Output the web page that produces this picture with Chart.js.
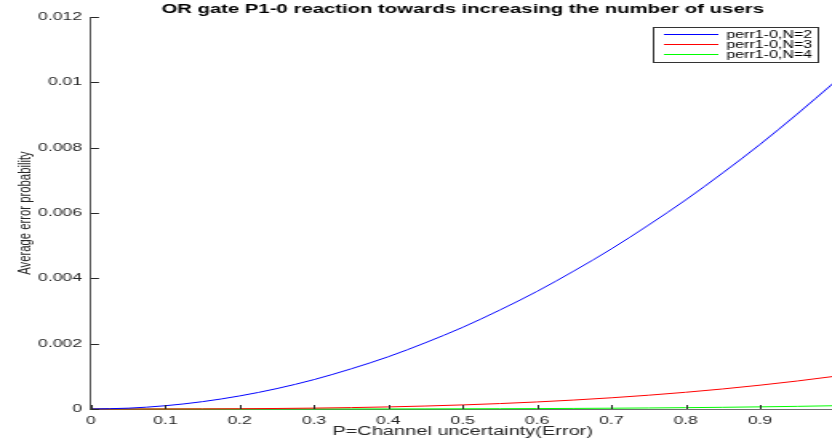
<!DOCTYPE html>
<html>
<head>
<meta charset="utf-8">
<title>OR gate P1-0 reaction</title>
<script src="https://cdn.jsdelivr.net/npm/chart.js@4.4.1/dist/chart.umd.min.js"></script>
<style>
  html, body { margin: 0; padding: 0; background: #fff; overflow: hidden; }
  /* the original figure is stretched sideways, so draw narrow and widen it */
  #wrap { position: relative; width: 522px; height: 443px; transform: scaleX(1.6); transform-origin: 0 0; }
</style>
</head>
<body>
<div id="wrap"><canvas id="errChart"></canvas></div>
<script>
// P = channel uncertainty
const pValues = [0, 0.05, 0.1, 0.15, 0.2, 0.25, 0.3, 0.35, 0.4, 0.45, 0.5,
                 0.55, 0.6, 0.65, 0.7, 0.75, 0.8, 0.85, 0.9, 0.95, 1];
// average error probability
const perrN2 = [0, 0.000025, 0.0001, 0.000225, 0.0004, 0.000625, 0.0009, 0.00123, 0.0016, 0.00203, 0.0025,
                0.00303, 0.0036, 0.00423, 0.0049, 0.00563, 0.0064, 0.00723, 0.0081, 0.00903, 0.01];
const perrN3 = [0, 0.0000001, 0.000001, 0.0000034, 0.000008, 0.000016, 0.000027, 0.000043, 0.000064, 0.000091, 0.000125,
                0.000166, 0.000216, 0.000275, 0.000343, 0.000422, 0.000512, 0.000614, 0.000729, 0.000857, 0.001];
const perrN4 = [0, 0, 0.00000001, 0.00000005, 0.00000016, 0.0000004, 0.0000008, 0.0000015, 0.0000026, 0.0000041, 0.0000063,
                0.0000092, 0.000013, 0.000018, 0.000024, 0.000032, 0.000041, 0.000052, 0.000066, 0.000081, 0.0001];

const seriesLabels = ['perr1-0,N=2', 'perr1-0,N=3', 'perr1-0,N=4'];
const seriesColors = ['#0000ff', '#ff0000', '#00ff00'];

const xTicks = [0, 0.1, 0.2, 0.3, 0.4, 0.5, 0.6, 0.7, 0.8, 0.9];
const xTickLabels = ['0', '0.1', '0.2', '0.3', '0.4', '0.5', '0.6', '0.7', '0.8', '0.9'];
const yTicks = [0, 0.002, 0.004, 0.006, 0.008, 0.01, 0.012];
const yTickLabels = ['0', '0.002', '0.004', '0.006', '0.008', '0.01', '0.012'];

const FONT = "'Liberation Sans', Arial, Helvetica, sans-serif";
const AXIS_COLOR = '#262626';

function toPoints(ys) {
    return pValues.map((p, i) => ({ x: p, y: ys[i] }));
}

// MATLAB style tick marks pointing into the axes
const innerTicks = {
    id: 'innerTicks',
    afterDraw(chart) {
        const ctx = chart.ctx;
        const xs = chart.scales.x, ys = chart.scales.y;
        const area = chart.chartArea;
        ctx.save();
        ctx.strokeStyle = AXIS_COLOR;
        ctx.lineWidth = 1;
        ctx.beginPath();
        xTicks.forEach(v => {
            const px = Math.round(xs.getPixelForValue(v)) + 0.5;
            ctx.moveTo(px, area.bottom);
            ctx.lineTo(px, area.bottom - 4);
        });
        yTicks.forEach(v => {
            const py = Math.round(ys.getPixelForValue(v)) + 0.5;
            ctx.moveTo(area.left, py);
            ctx.lineTo(area.left + 5, py);
        });
        ctx.stroke();
        ctx.restore();
    }
};

// boxed legend in the top right corner
const boxLegend = {
    id: 'boxLegend',
    afterDraw(chart) {
        const ctx = chart.ctx;
        const left = 408, top = 27, width = 103, height = 35;
        ctx.save();
        ctx.fillStyle = '#ffffff';
        ctx.fillRect(left, top, width, height);
        ctx.strokeStyle = '#333333';
        ctx.lineWidth = 1;
        ctx.strokeRect(left + 0.5, top + 0.5, width, height);
        ctx.font = '10px ' + FONT;
        ctx.textBaseline = 'middle';
        chart.data.datasets.forEach((ds, i) => {
            const y = top + 7.5 + i * 10;
            ctx.strokeStyle = ds.borderColor;
            ctx.beginPath();
            ctx.moveTo(left + 7, y);
            ctx.lineTo(left + 41, y);
            ctx.stroke();
            ctx.fillStyle = '#000000';
            ctx.fillText(ds.label, left + 46, y + 0.5);
        });
        ctx.restore();
    }
};

const ctx = document.getElementById('errChart').getContext('2d');
new Chart(ctx, {
    type: 'line',
    data: {
        datasets: [perrN2, perrN3, perrN4].map((ys, i) => ({
            label: seriesLabels[i],
            data: toPoints(ys),
            borderColor: seriesColors[i],
            backgroundColor: seriesColors[i],
            borderWidth: 1,
            pointRadius: 0,
            cubicInterpolationMode: 'monotone',
            clip: 3
        }))
    },
    options: {
        responsive: true,
        maintainAspectRatio: false,
        animation: false,
        layout: { padding: { left: 8.8, right: 0, top: 0, bottom: 0 } },
        plugins: {
            legend: { display: false },
            tooltip: { enabled: false },
            title: {
                display: true,
                text: 'OR gate P1-0 reaction towards increasing the number of users',
                fullSize: false,
                color: '#000000',
                font: { family: FONT, size: 12.7, weight: 'bold', lineHeight: 1.15 },
                padding: { top: 2, bottom: 0.4 }
            }
        },
        scales: {
            x: {
                type: 'linear',
                min: 0,
                max: 1,
                afterBuildTicks: s => { s.ticks = xTicks.map(v => ({ value: v })); },
                grid: { display: false, drawTicks: false },
                border: { display: true, color: '#6e6e6e', width: 1 },
                ticks: {
                    autoSkip: false,
                    maxRotation: 0,
                    padding: 5,
                    color: AXIS_COLOR,
                    font: { family: FONT, size: 11, lineHeight: 1.2 },
                    callback: (v, i) => xTickLabels[i]
                },
                title: {
                    display: true,
                    text: 'P=Channel uncertainty(Error)',
                    color: AXIS_COLOR,
                    font: { family: FONT, size: 12.5, lineHeight: 1.2 },
                    padding: { top: -7.7, bottom: 3.5 }
                }
            },
            y: {
                type: 'linear',
                min: 0,
                max: 0.012,
                afterBuildTicks: s => { s.ticks = yTicks.map(v => ({ value: v })); },
                grid: { display: false, drawTicks: false },
                border: { display: true, color: '#555555', width: 1 },
                ticks: {
                    padding: 5.6,
                    color: AXIS_COLOR,
                    font: { family: FONT, size: 11, lineHeight: 1.2 },
                    callback: (v, i) => yTickLabels[i]
                },
                title: {
                    display: true,
                    text: 'Average error probability',
                    color: AXIS_COLOR,
                    font: { family: FONT, size: 11.3, lineHeight: 1.2 },
                    padding: { top: 0, bottom: -4.2 }
                }
            }
        }
    },
    plugins: [innerTicks, boxLegend]
});
</script>
</body>
</html>
